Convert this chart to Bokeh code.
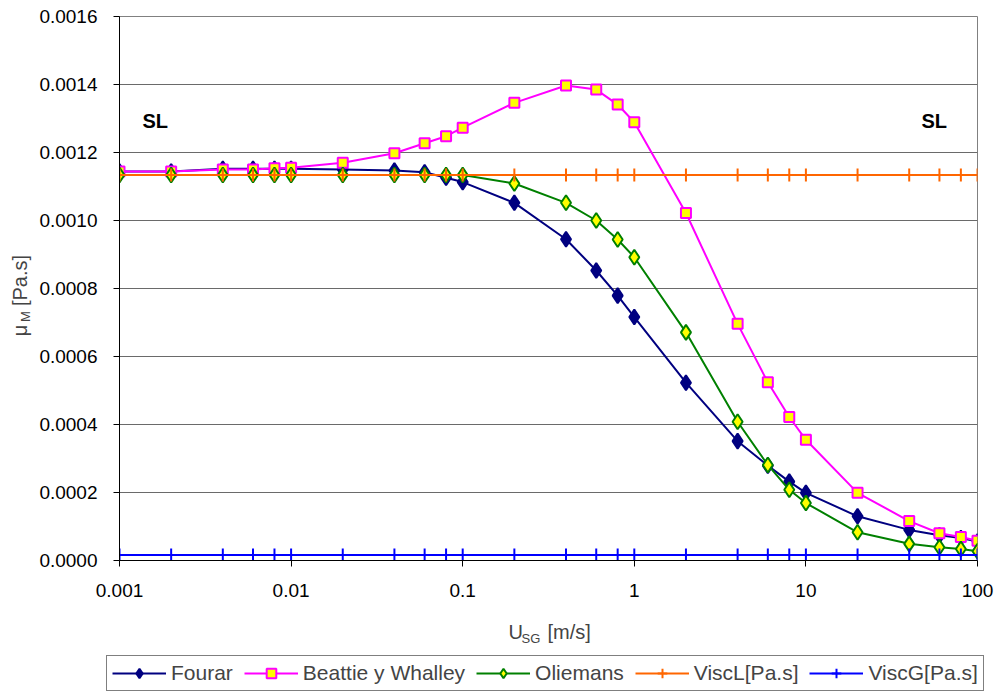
import math
from bokeh.plotting import figure
from bokeh.models import (FixedTicker, Label, Legend, LegendItem, NumeralTickFormatter,
                          ColumnDataSource, Range1d, Plot, Line, Scatter)
from bokeh.layouts import column, row
from bokeh.embed import file_html
from bokeh.resources import INLINE

# ---------------- data ----------------
usg = [0.001, 0.002, 0.004, 0.006, 0.008, 0.01, 0.02, 0.04, 0.06, 0.08, 0.1,
       0.2, 0.4, 0.6, 0.8, 1, 2, 4, 6, 8, 10, 20, 40, 60, 80, 100]

fourar = [0.001144, 0.001144, 0.001152, 0.001152, 0.001152, 0.001152, 0.00115,
          0.001147, 0.001142, 0.001126, 0.001113, 0.001052, 0.000945, 0.000853,
          0.000779, 0.000716, 0.000523, 0.000351, 0.000279, 0.000232, 0.000199,
          0.000130, 0.000090, 0.000074, 0.000066, 0.000056]

beattie = [0.001144, 0.001144, 0.00115, 0.00115, 0.001154, 0.001155, 0.00117,
           0.001198, 0.001227, 0.001248, 0.001273, 0.001346, 0.001397, 0.001385,
           0.001341, 0.001289, 0.001022, 0.000696, 0.000524, 0.000422, 0.000355,
           0.000199, 0.000116, 0.000080, 0.000069, 0.000058]

oliemans = [0.001134, 0.001134, 0.001134, 0.001134, 0.001134, 0.001134, 0.001134,
            0.001134, 0.001134, 0.001134, 0.001134, 0.001109, 0.001052, 0.001,
            0.000944, 0.000892, 0.000671, 0.000408, 0.000281, 0.000208, 0.000169,
            0.000083, 0.000049, 0.000039, 0.000034, 0.000027]

viscL = [0.001134] * len(usg)
viscG = [0.000016] * len(usg)

series_names = ["Fourar", "Beattie y Whalley", "Oliemans", "ViscL[Pa.s]", "ViscG[Pa.s]"]

x_ticks = [0.001, 0.01, 0.1, 1, 10, 100]
x_tick_labels = ["0.001", "0.01", "0.1", "1", "10", "100"]
y_ticks = [0.0, 0.0002, 0.0004, 0.0006, 0.0008, 0.0010, 0.0012, 0.0014, 0.0016]

region_label = "SL"
x_label_main, x_label_sub, x_label_rest = "U", "SG", "[m/s]"
y_label_main, y_label_sub, y_label_rest = "\u03bc", "M", "[Pa.s]"

FONT = "Liberation Sans"

# series styles: (column, line colour, marker, marker fill, marker size)
styles = [
    ("fourar", "#000080", "diamond", "#000080", 15),
    ("beattie", "#FF00FF", "square", "#FFFF00", 10),
    ("oliemans", "#008000", "diamond", "#FFFF00", 15),
    ("viscL", "#FF6600", "cross", None, 13),
    ("viscG", "#0000FF", "cross", None, 13),
]

# ---------------- main figure ----------------
p = figure(width=965, height=605, x_axis_type="log",
           x_range=Range1d(0.001, 100), y_range=Range1d(0, 0.0016),
           output_backend="svg", toolbar_location=None,
           min_border_left=85, min_border_right=22, min_border_top=16,
           min_border_bottom=45)
p.background_fill_color = "white"
p.border_fill_color = "white"
p.outline_line_color = "#808080"
p.outline_line_width = 1

p.xaxis.ticker = FixedTicker(ticks=x_ticks)
p.xaxis.major_label_overrides = {t: l for t, l in zip(x_ticks, x_tick_labels)}
p.yaxis.ticker = FixedTicker(ticks=y_ticks)
p.yaxis.formatter = NumeralTickFormatter(format="0.0000")
for ax in (p.xaxis, p.yaxis):
    ax.axis_line_color = "black"
    ax.axis_line_width = 1
    ax.major_tick_line_color = "black"
    ax.major_tick_out = 6
    ax.major_tick_in = 0
    ax.minor_tick_line_color = None
    ax.major_label_text_font = FONT
    ax.major_label_text_font_size = "19px"
    ax.major_label_text_color = "black"
p.yaxis.major_label_standoff = 16
p.xaxis.major_label_standoff = 17

p.xgrid.grid_line_color = None
p.ygrid.grid_line_color = "#6a6a6a"
p.ygrid.grid_line_width = 1
p.ygrid.ticker = FixedTicker(ticks=y_ticks)

src = ColumnDataSource(dict(x=usg, fourar=fourar, beattie=beattie,
                            oliemans=oliemans, viscL=viscL, viscG=viscG))

for col, lc, mk, fc, sz in styles:
    p.line("x", col, source=src, line_color=lc, line_width=2)
    p.scatter("x", col, source=src, marker=mk, size=sz,
              fill_color=fc, line_color=lc, line_width=2)

for sx in (23, 802):
    p.add_layout(Label(x=sx, y=440, x_units="screen", y_units="screen",
                       text=region_label, text_font=FONT, text_font_size="20px",
                       text_font_style="bold", text_color="black",
                       text_baseline="alphabetic"))

# ---------------- left strip: y axis label ----------------
left = Plot(width=34, height=605, x_range=Range1d(0, 1), y_range=Range1d(0, 1),
            min_border=0, outline_line_color=None, toolbar_location=None,
            output_backend="svg")
for txt, sx, sy, fs in ((y_label_main, 19, 230, "20px"),
                        (y_label_sub, 25, 244, "13px"),
                        (y_label_rest, 19, 280, "20px")):
    left.add_layout(Label(x=sx, y=sy, x_units="screen", y_units="screen",
                          angle=math.pi / 2, text=txt, text_font=FONT,
                          text_font_size=fs, text_align="center",
                          text_baseline="middle"))

# ---------------- bottom strip: x axis label + legend ----------------
bottom = Plot(width=999, height=94, x_range=Range1d(0, 1), y_range=Range1d(0, 1),
              min_border=0, outline_line_color=None, toolbar_location=None,
              output_backend="svg")
for txt, sx, sy, fs in ((x_label_main, 508, 68, "20px"),
                        (x_label_sub, 521, 61, "13px"),
                        (x_label_rest, 547, 68, "20px")):
    bottom.add_layout(Label(x=sx, y=sy, x_units="screen", y_units="screen",
                            text=txt, text_font=FONT, text_font_size=fs,
                            text_baseline="alphabetic"))

items = []
for name, (col, lc, mk, fc, sz) in zip(series_names, styles):
    # legend proxies: a single point far outside the visible strip
    proxy = ColumnDataSource(dict(x=[-5.0], y=[-5.0]))
    rl = bottom.add_glyph(proxy, Line(x="x", y="y", line_color=lc, line_width=2))
    rm = bottom.add_glyph(proxy, Scatter(x="x", y="y", marker=mk, size=sz,
                                         fill_color=fc, line_color=lc, line_width=2))
    items.append(LegendItem(label=name, renderers=[rl, rm]))

legend = Legend(items=items, orientation="horizontal", location=(106, 8),
                border_line_color="black", border_line_width=1,
                background_fill_color="white", background_fill_alpha=1,
                label_text_font=FONT, label_text_font_size="21px",
                glyph_width=54, glyph_height=24, label_height=20,
                label_standoff=5, spacing=11, padding=5, margin=0)
bottom.add_layout(legend, "center")

layout = column(row(left, p), bottom)
open("out.html", "w").write(file_html(layout, INLINE))
